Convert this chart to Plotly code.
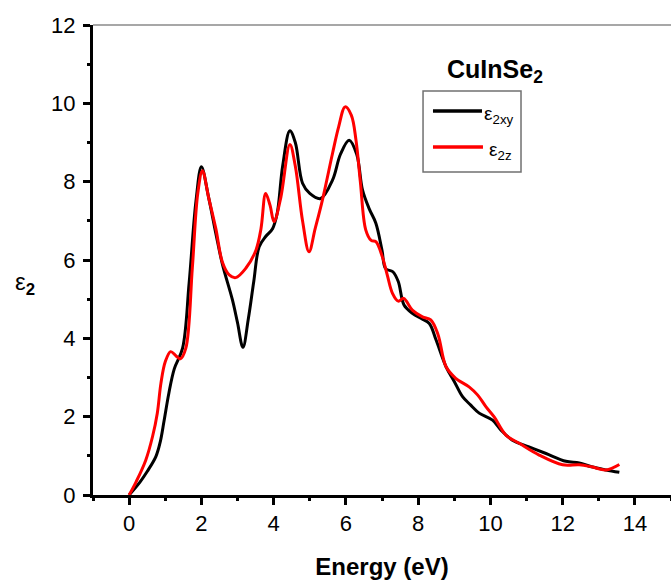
import plotly.graph_objects as go

# Imaginary part of the dielectric function of CuInSe2
energy_xy = [0, 0.3, 0.5, 0.74, 0.86, 0.97, 1.1, 1.25, 1.48, 1.66, 1.85, 2.0, 2.2, 2.4,
             2.58, 2.86, 3.0, 3.15, 3.3, 3.45, 3.6, 3.78, 3.97, 4.1, 4.25, 4.45, 4.6, 4.8,
             5.0, 5.3, 5.63, 5.85, 6.09, 6.3, 6.46, 6.65, 6.83, 7.0, 7.1, 7.3, 7.45, 7.61,
             7.84, 8.1, 8.31, 8.5, 8.77, 9.0, 9.23, 9.45, 9.69, 10.06, 10.3, 10.61, 11.07,
             11.54, 12.09, 12.46, 12.8, 13.2, 13.57]
eps2_xy = [0, 0.33, 0.6, 0.98, 1.35, 1.91, 2.6, 3.22, 3.75, 5.4, 7.5, 8.38, 7.6, 6.68,
           5.9, 4.98, 4.4, 3.77, 4.5, 5.45, 6.34, 6.6, 6.8, 7.2, 8.4, 9.3, 9.0, 7.96,
           7.7, 7.57, 8.04, 8.7, 9.06, 8.7, 7.79, 7.3, 6.94, 6.25, 5.78, 5.7, 5.45, 4.85,
           4.64, 4.5, 4.38, 3.95, 3.28, 2.9, 2.51, 2.3, 2.09, 1.91, 1.65, 1.4, 1.23,
           1.06, 0.86, 0.82, 0.72, 0.64, 0.58]

energy_z = [0, 0.2, 0.46, 0.65, 0.78, 0.88, 1.0, 1.15, 1.3, 1.42, 1.57, 1.75, 1.9, 2.03,
            2.2, 2.4, 2.58, 2.77, 2.95, 3.23, 3.51, 3.65, 3.78, 3.9, 4.01, 4.2, 4.45, 4.6,
            4.8, 4.98, 5.15, 5.35, 5.63, 5.8, 5.98, 6.15, 6.28, 6.4, 6.55, 6.7, 6.83, 7.01,
            7.15, 7.29, 7.45, 7.6, 7.84, 8.12, 8.35, 8.55, 8.77, 9.04, 9.41, 9.65, 9.88,
            10.1, 10.43, 10.8, 11.35, 12.0, 12.46, 12.8, 13.2, 13.57]
eps2_z = [0, 0.35, 0.89, 1.5, 2.09, 2.85, 3.4, 3.66, 3.55, 3.48, 3.75, 5.8, 7.7, 8.28,
          7.6, 6.8, 5.95, 5.62, 5.55, 5.79, 6.25, 6.8, 7.7, 7.4, 6.98, 7.6, 8.95, 8.4,
          7.0, 6.21, 6.8, 7.53, 8.72, 9.4, 9.91, 9.7, 9.06, 8.0, 6.77, 6.5, 6.47, 6.08,
          5.6, 5.15, 4.95, 5.02, 4.72, 4.55, 4.47, 4.1, 3.28, 2.98, 2.76, 2.55, 2.25,
          2.0, 1.53, 1.32, 1.02, 0.77, 0.77, 0.72, 0.64, 0.78]

x_ticks = [0, 2, 4, 6, 8, 10, 12, 14]
y_ticks = [0, 2, 4, 6, 8, 10, 12]

COLOR_XY = "#000000"
COLOR_Z = "#ff0000"
FONT = "Arial, Liberation Sans, sans-serif"

fig = go.Figure()
fig.add_trace(go.Scatter(x=energy_xy, y=eps2_xy, mode="lines", name="ε2xy",
                         line=dict(color=COLOR_XY, width=3, shape="spline", smoothing=1.0)))
fig.add_trace(go.Scatter(x=energy_z, y=eps2_z, mode="lines", name="ε2z",
                         line=dict(color=COLOR_Z, width=3, shape="spline", smoothing=1.0)))

axis_common = dict(
    showline=True, linecolor="black", linewidth=3,
    ticks="outside", ticklen=7, tickwidth=3, tickcolor="black",
    showgrid=False, zeroline=False,
    tickfont=dict(family=FONT, size=22, color="black"),
)

fig.update_xaxes(range=[-1, 15], tickvals=x_ticks,
                 minor=dict(dtick=1, tick0=-1, ticks="outside", ticklen=3,
                            tickwidth=2.5, tickcolor="black"),
                 title=dict(text="<b>Energy (eV)</b>",
                            font=dict(family=FONT, size=24, color="black"), standoff=23),
                 **axis_common)
fig.update_yaxes(range=[0, 12], tickvals=y_ticks, ticklabelstandoff=3,
                 minor=dict(dtick=1, tick0=1, ticks="outside", ticklen=3,
                            tickwidth=2.5, tickcolor="black"),
                 **axis_common)

# thin frame line along the top of the plot area
fig.add_shape(type="line", xref="paper", yref="paper", x0=0, x1=1, y0=1, y1=1,
              line=dict(color="#8a8a8a", width=1.5))

# legend box with line samples
fig.add_shape(type="rect", xref="paper", yref="paper", x0=0.571, x1=0.7405,
              y0=0.687, y1=0.8596, line=dict(color="#707070", width=1.5))
fig.add_shape(type="line", xref="paper", yref="paper", x0=0.5882, x1=0.6730,
              y0=0.817, y1=0.817, line=dict(color=COLOR_XY, width=3.5))
fig.add_shape(type="line", xref="paper", yref="paper", x0=0.5882, x1=0.6747,
              y0=0.7404, y1=0.7404, line=dict(color=COLOR_Z, width=3.5))

annotations = [
    dict(text="ε<sub>2xy</sub>", x=0.673, y=0.8085, xanchor="left", yanchor="middle",
         font=dict(family=FONT, size=19, color="black")),
    dict(text="ε<sub>2z</sub>", x=0.6817, y=0.732, xanchor="left", yanchor="middle",
         font=dict(family=FONT, size=19, color="black")),
    dict(text="<b>CuInSe<sub>2</sub></b>", x=0.6955, y=0.902, xanchor="center",
         yanchor="middle", font=dict(family=FONT, size=25, color="black")),
    dict(text="ε<sub><b>2</b></sub>", x=-0.1176, y=0.451, xanchor="center",
         yanchor="middle", font=dict(family=FONT, size=24, color="black")),
]
for a in annotations:
    a.update(xref="paper", yref="paper", showarrow=False)
fig.update_layout(annotations=annotations)

fig.update_layout(
    width=671, height=586,
    margin=dict(l=93, r=0, t=25, b=91),
    paper_bgcolor="white", plot_bgcolor="white",
    showlegend=False,
    font=dict(family=FONT, color="black"),
)

fig.write_html("out.html")
